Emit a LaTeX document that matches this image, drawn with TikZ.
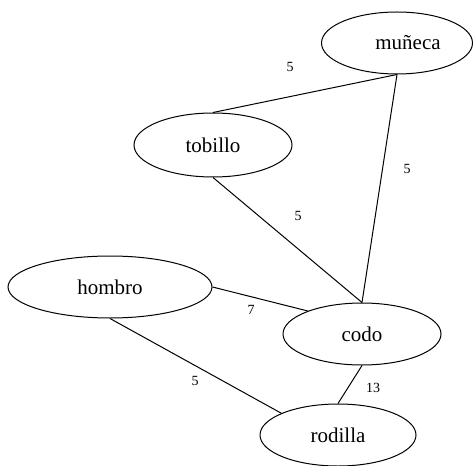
\documentclass[tikz,border=0pt]{standalone}
\usepackage{fontspec}
\setmainfont{Liberation Serif}
\usetikzlibrary{shapes.geometric}
\begin{document}
\begin{tikzpicture}[x=1pt,y=-1pt,
  vtx/.style={draw,ellipse,line width=1pt,inner sep=0pt,font=\fontsize{21}{24}\selectfont},
  edge/.style={line width=1pt},
  wlab/.style={font=\fontsize{14}{16}\selectfont,inner sep=0pt}]
\useasboundingbox (0,0) rectangle (473,465);
\node[vtx,minimum width=151pt,minimum height=62pt] (muneca) at (397,43) {\hspace*{22pt}muñeca};
\node[vtx,minimum width=158pt,minimum height=64pt] (tobillo) at (213,145) {tobillo};
\node[vtx,minimum width=204pt,minimum height=62pt] (hombro) at (110,287) {hombro};
\node[vtx,minimum width=158pt,minimum height=62pt] (codo) at (362,334) {codo};
\node[vtx,minimum width=156pt,minimum height=62pt] (rodilla) at (338,435) {rodilla};
\draw[edge] (muneca.south) -- (tobillo.north);
\draw[edge] (muneca.south) -- (codo.north);
\draw[edge] (tobillo.south) -- (codo.north);
\draw[edge] (hombro.east) -- (codo.157);
\draw[edge] (hombro.south) -- (rodilla.159);
\draw[edge] (codo.south) -- (rodilla.north);
\node[wlab] (l1) at (290,67) {5};
\node[wlab] (l2) at (407,169) {5};
\node[wlab] (l3) at (298,216) {5};
\node[wlab] (l4) at (251,310) {7};
\node[wlab] (l5) at (195,381) {5};
\node[wlab] (l6) at (373,388) {13};
\end{tikzpicture}
\end{document}
